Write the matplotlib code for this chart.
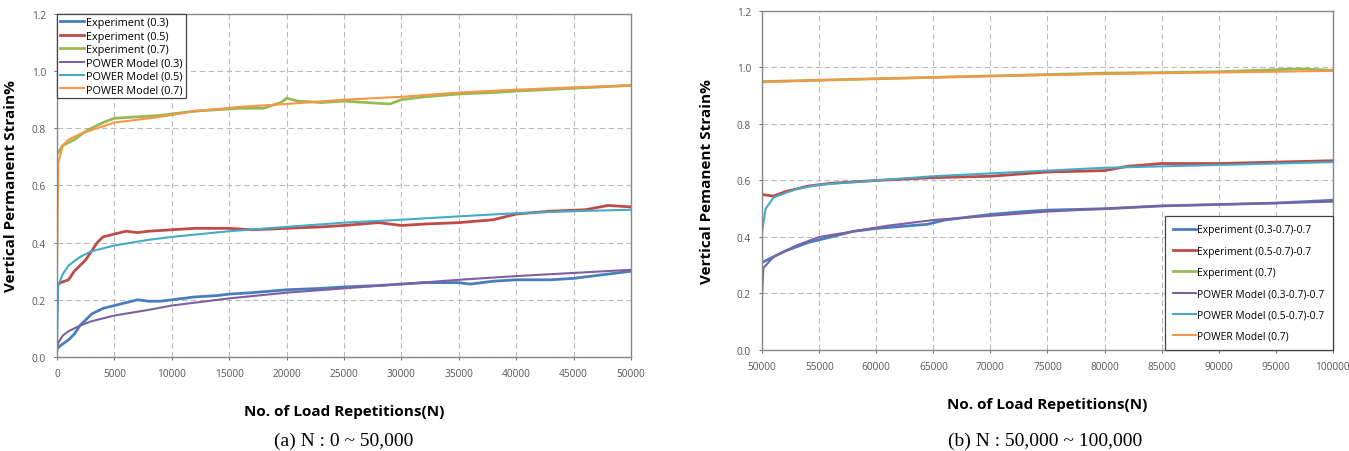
import matplotlib
matplotlib.use("Agg")
import matplotlib.pyplot as plt

# ---------------- data ----------------
# Panel (a): N 0 ~ 50,000
a_exp03_n = [0, 300, 1000, 1500, 2000, 2500, 3000, 4000, 5000, 6000, 7000, 8000, 9000, 10000, 12000, 14000,
             15000, 17000, 20000, 23000, 25000, 28000, 30000, 32000, 35000, 36000, 38000, 40000, 43000, 45000,
             47000, 48000, 50000]
a_exp03_v = [0.03, 0.04, 0.06, 0.08, 0.11, 0.13, 0.15, 0.17, 0.18, 0.19, 0.20, 0.195, 0.195, 0.20, 0.21, 0.215,
             0.22, 0.225, 0.235, 0.24, 0.245, 0.25, 0.255, 0.26, 0.26, 0.255, 0.265, 0.27, 0.27, 0.275,
             0.285, 0.29, 0.30]
a_pow03_n = [0, 100, 500, 1000, 2000, 3000, 5000, 8000, 10000, 15000, 20000, 25000, 30000, 35000, 40000, 45000, 50000]
a_pow03_v = [0.02, 0.05, 0.075, 0.09, 0.11, 0.125, 0.145, 0.165, 0.18, 0.205, 0.225, 0.24, 0.255, 0.27, 0.283, 0.294, 0.305]

a_exp05_n = [0, 300, 1000, 1500, 2000, 2500, 3000, 3500, 4000, 5000, 6000, 7000, 8000, 10000, 12000, 15000,
             17000, 20000, 23000, 25000, 28000, 30000, 32000, 35000, 38000, 40000, 43000, 46000, 48000, 50000]
a_exp05_v = [0.25, 0.26, 0.27, 0.30, 0.32, 0.34, 0.37, 0.40, 0.42, 0.43, 0.44, 0.435, 0.44, 0.445, 0.45, 0.45,
             0.445, 0.45, 0.455, 0.46, 0.47, 0.46, 0.465, 0.47, 0.48, 0.50, 0.51, 0.515, 0.53, 0.525]
a_pow05_n = [0, 100, 500, 1000, 2000, 3000, 5000, 8000, 10000, 15000, 20000, 25000, 30000, 35000, 40000, 45000, 50000]
a_pow05_v = [0.05, 0.25, 0.29, 0.32, 0.35, 0.37, 0.39, 0.41, 0.42, 0.44, 0.455, 0.47, 0.48, 0.492, 0.503, 0.51, 0.515]

a_exp07_n = [0, 500, 1500, 2500, 4000, 5000, 7000, 9000, 10000, 12000, 14000, 16000, 18000, 19500, 20000, 21000,
             23000, 25000, 27000, 29000, 30000, 32000, 35000, 38000, 40000, 45000, 50000]
a_exp07_v = [0.71, 0.74, 0.76, 0.79, 0.82, 0.835, 0.84, 0.845, 0.85, 0.86, 0.865, 0.87, 0.87, 0.89, 0.905, 0.895,
             0.89, 0.895, 0.89, 0.885, 0.90, 0.91, 0.92, 0.925, 0.93, 0.94, 0.95]
a_pow07_n = [0, 100, 500, 1000, 2000, 3500, 5000, 9000, 12000, 16000, 20000, 25000, 30000, 35000, 40000, 45000, 50000]
a_pow07_v = [0.30, 0.68, 0.74, 0.76, 0.78, 0.80, 0.82, 0.84, 0.86, 0.875, 0.885, 0.90, 0.91, 0.925, 0.935, 0.943, 0.95]

# Panel (b): N 50,000 ~ 100,000
b_exp03_n = [50000, 52000, 54000, 56000, 58000, 60000, 63000, 64500, 66000, 68000, 70000, 73000, 75000, 80000,
             85000, 90000, 95000, 100000]
b_exp03_v = [0.31, 0.35, 0.38, 0.40, 0.42, 0.43, 0.44, 0.445, 0.46, 0.47, 0.48, 0.49, 0.495, 0.50,
             0.51, 0.515, 0.52, 0.53]
b_pow03_n = [50000, 50100, 51000, 53000, 55000, 58000, 61000, 65000, 70000, 75000, 80000, 85000, 90000, 95000, 100000]
b_pow03_v = [0.20, 0.29, 0.33, 0.37, 0.40, 0.42, 0.44, 0.46, 0.475, 0.49, 0.50, 0.51, 0.515, 0.52, 0.525]

b_exp05_n = [50000, 51000, 52000, 54000, 56000, 60000, 65000, 70000, 75000, 80000, 82000, 85000, 90000, 95000, 100000]
b_exp05_v = [0.55, 0.545, 0.56, 0.58, 0.59, 0.60, 0.61, 0.615, 0.63, 0.635, 0.65, 0.66, 0.66, 0.665, 0.67]
b_pow05_n = [50000, 50300, 51000, 53000, 55000, 60000, 65000, 70000, 75000, 80000, 85000, 90000, 95000, 100000]
b_pow05_v = [0.42, 0.50, 0.54, 0.57, 0.585, 0.60, 0.615, 0.625, 0.635, 0.645, 0.65, 0.655, 0.66, 0.665]

b_exp07_n = [50000, 55000, 60000, 65000, 70000, 75000, 80000, 85000, 90000, 97000, 100000]
b_exp07_v = [0.95, 0.955, 0.96, 0.965, 0.97, 0.975, 0.98, 0.982, 0.985, 0.995, 0.99]
b_pow07_n = [50000, 55000, 60000, 67000, 75000, 85000, 95000, 100000]
b_pow07_v = [0.948, 0.955, 0.96, 0.967, 0.973, 0.98, 0.985, 0.988]

labels_a = ["Experiment (0.3)", "Experiment (0.5)", "Experiment (0.7)",
            "POWER Model (0.3)", "POWER Model (0.5)", "POWER Model (0.7)"]
labels_b = ["Experiment (0.3-0.7)-0.7", "Experiment (0.5-0.7)-0.7", "Experiment (0.7)",
            "POWER Model (0.3-0.7)-0.7", "POWER Model (0.5-0.7)-0.7", "POWER Model (0.7)"]
xticks_a = [0, 5000, 10000, 15000, 20000, 25000, 30000, 35000, 40000, 45000, 50000]
xticks_b = [50000, 55000, 60000, 65000, 70000, 75000, 80000, 85000, 90000, 95000, 100000]
yticks = [0.0, 0.2, 0.4, 0.6, 0.8, 1.0, 1.2]

colors = ["#4A7EBB", "#BE4B48", "#98B954", "#7D60A0", "#46AAC5", "#F79646"]

# ---------------- figure ----------------
plt.rcParams['font.family'] = ['Open Sans', 'DejaVu Sans']
fig = plt.figure(figsize=(13.49, 4.52), dpi=100)

ax1 = fig.add_axes([0.0423, 0.208, 0.4255, 0.759])
ax2 = fig.add_axes([0.565, 0.2235, 0.423, 0.75])


def draw(ax, series, labels, xticks, xlim):
    lws = [2.0, 2.0, 2.0, 1.5, 1.5, 1.5]
    for (n, v), lab, c, lw in zip(series, labels, colors, lws):
        ax.plot(n, v, color=c, lw=lw, label=lab)
    ax.set_xlim(*xlim)
    ax.set_ylim(0, 1.2)
    ax.set_xticks(xticks)
    ax.set_xticklabels([str(t) for t in xticks])
    ax.set_yticks(yticks)
    ax.set_yticklabels([f"{t:.1f}" for t in yticks])
    ax.grid(True, color="#BBBBBB", linestyle=(0, (5, 3)), lw=0.8)
    ax.tick_params(labelsize=7.3, colors="#555555", length=2, width=0.6, pad=6)
    for s in ax.spines.values():
        s.set_color("#888888")
        s.set_linewidth(1.0)


series_a = [(a_exp03_n, a_exp03_v), (a_exp05_n, a_exp05_v), (a_exp07_n, a_exp07_v),
            (a_pow03_n, a_pow03_v), (a_pow05_n, a_pow05_v), (a_pow07_n, a_pow07_v)]
series_b = [(b_exp03_n, b_exp03_v), (b_exp05_n, b_exp05_v), (b_exp07_n, b_exp07_v),
            (b_pow03_n, b_pow03_v), (b_pow05_n, b_pow05_v), (b_pow07_n, b_pow07_v)]

draw(ax1, series_a, labels_a, xticks_a, (0, 50000))
draw(ax2, series_b, labels_b, xticks_b, (50000, 100000))

leg1 = ax1.legend(loc="upper left", fontsize=7.8, handlelength=2.2, handletextpad=0.15,
                  labelspacing=0.22, borderpad=0.3, borderaxespad=0.0, fancybox=False,
                  framealpha=1, edgecolor="#444444")
leg1.get_frame().set_linewidth(0.9)
leg2 = ax2.legend(loc="lower right", fontsize=7.4, handlelength=2.2, handletextpad=0.15,
                  labelspacing=1.0, borderpad=0.8, borderaxespad=0.0, fancybox=False,
                  framealpha=1, edgecolor="#444444")
leg2.get_frame().set_linewidth(0.9)

ax1.set_xlabel("No. of Load Repetitions(N)", fontsize=11, fontweight="bold", labelpad=18)
ax2.set_xlabel("No. of Load Repetitions(N)", fontsize=11, fontweight="bold", labelpad=18)
ax1.set_ylabel("Vertical Permanent Strain%", fontsize=11, fontweight="bold")
ax2.set_ylabel("Vertical Pemanent Strain%", fontsize=11, fontweight="bold")
ax1.yaxis.set_label_coords(-0.068, 0.5)
ax2.yaxis.set_label_coords(-0.084, 0.5)

fig.text(0.255, 1 - 446 / 452, "(a) N : 0 ~ 50,000", ha="center", va="baseline",
         fontsize=14, family="Liberation Serif")
fig.text(0.775, 1 - 446 / 452, "(b) N : 50,000 ~ 100,000", ha="center", va="baseline",
         fontsize=14, family="Liberation Serif")

fig.savefig("out.png", dpi=100)
